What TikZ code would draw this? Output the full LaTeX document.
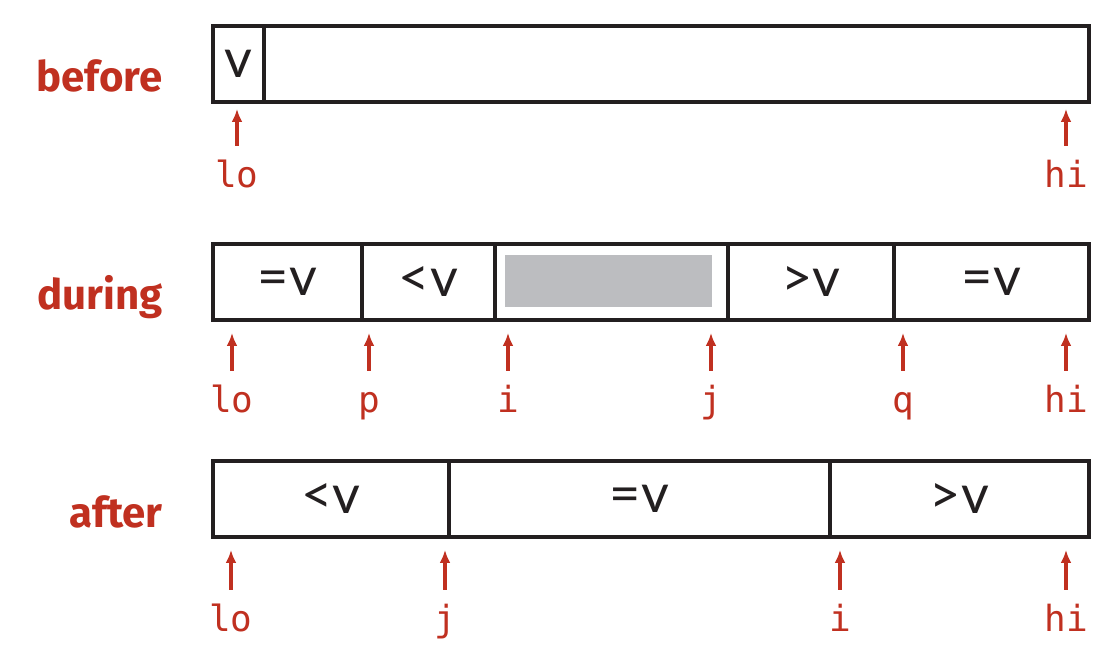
\documentclass[tikz,border=0pt]{standalone}
\usepackage{fontspec}
\setmainfont{Fira Sans}
\newfontfamily\cellfont{Lato}
\newfontfamily\codefont{DejaVu Sans Mono}
\usetikzlibrary{arrows.meta}

\definecolor{markred}{RGB}{192,48,32}
\definecolor{slotgray}{RGB}{188,189,192}
\definecolor{inkblack}{RGB}{35,31,32}

\tikzset{
  cell/.style={draw=inkblack, line width=2pt, anchor=north west, inner sep=0pt, outer sep=0pt,
    minimum height=38pt, text=inkblack, font=\cellfont\fontsize{27}{27}\selectfont},
  phase/.style={anchor=base east, inner sep=0pt, text=markred, font=\fontsize{21}{21}\selectfont\bfseries},
  idx/.style={anchor=base, inner sep=0pt, outer sep=7pt, text height=14pt, text depth=4pt,
    text=markred, font=\codefont\fontsize{18}{18}\selectfont},
  ptr/.style={draw=markred, line width=2pt, -{Latex[length=6.5pt,width=5.5pt]}},
}

\begin{document}
\begin{tikzpicture}[x=0.5pt,y=-0.5pt]
    \useasboundingbox (0,0) rectangle (1116,663);

    % before
    \node[phase] (before) at (163,92) {before};
    \node[cell, minimum width=25.5pt] (bv) at (213,26) {v};
    \node[cell, minimum width=412.5pt] (brest) at (264,26) {};

    \foreach \n/\x in {lo/237, hi/1066} {
        \node[idx] (b\n) at (\x,188) {\n};
        \coordinate (b\n-tip) at (\x,109);
        \draw[ptr] (b\n.north) -- (b\n-tip);
    }

    % during
    \node[phase] (during) at (163,310) {during};
    \node[cell, minimum width=74.5pt] (deq1) at (213,244) {=v};
    \node[cell, minimum width=66.5pt] (dlt) at (362,244) {<v};
    \node[cell, minimum width=116.5pt] (dopen) at (495,244) {};
    \node[cell, minimum width=83pt] (dgt) at (728,244) {>v};
    \node[cell, minimum width=97.5pt] (deq2) at (894,244) {=v};
    \fill[slotgray] (505,255) rectangle (712,307);

    \foreach \n/\x in {lo/232, p/369, i/508, j/711, q/903, hi/1066} {
        \node[idx] (d\n) at (\x,413) {\n};
        \coordinate (d\n-tip) at (\x,333);
        \draw[ptr] (d\n.north) -- (d\n-tip);
    }

    % after
    \node[phase] (after) at (163,528) {after};
    \node[cell, minimum width=118pt] (alt) at (213,461) {<v};
    \node[cell, minimum width=190.5pt] (aeq) at (449,461) {=v};
    \node[cell, minimum width=129.5pt] (agt) at (830,461) {>v};

    \foreach \n/\x in {lo/231, j/445, i/840, hi/1066} {
        \node[idx] (a\n) at (\x,632) {\n};
        \coordinate (a\n-tip) at (\x,550);
        \draw[ptr] (a\n.north) -- (a\n-tip);
    }
\end{tikzpicture}
\end{document}
